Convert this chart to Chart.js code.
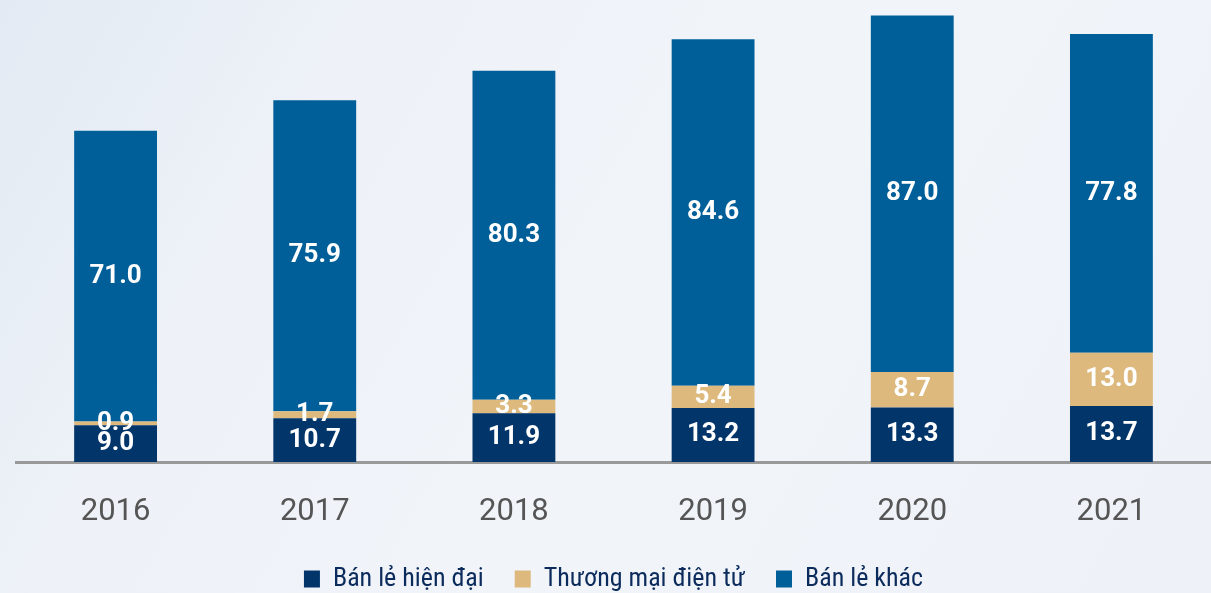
<!DOCTYPE html>
<html>
<head>
<meta charset="utf-8">
<script src="https://cdn.jsdelivr.net/npm/chart.js@4"></script>
<style>
  html, body { margin: 0; padding: 0; }
  body {
    width: 1211px; height: 593px; overflow: hidden;
    background: linear-gradient(120deg, #e3eaf3 0%, #eef2f8 25%, #f1f4f9 55%, #eef2f8 100%);
  }
  #wrap { position: relative; width: 1211px; height: 593px; }
</style>
</head>
<body>
<div id="wrap"><canvas id="chart"></canvas></div>
<script>
const years = ["2016", "2017", "2018", "2019", "2020", "2021"];
const modernRetail = [9.0, 10.7, 11.9, 13.2, 13.3, 13.7];   // Bán lẻ hiện đại
const eCommerce = [0.9, 1.7, 3.3, 5.4, 8.7, 13.0];          // Thương mại điện tử
const otherRetail = [71.0, 75.9, 80.3, 84.6, 87.0, 77.8];   // Bán lẻ khác

// Draw the value in the middle of each segment (no datalabels plugin offline)
const segmentLabels = {
  id: "segmentLabels",
  afterDatasetsDraw(chart) {
    const ctx = chart.ctx;
    ctx.save();
    ctx.fillStyle = "#ffffff";
    ctx.font = "bold 26px Roboto, 'DejaVu Sans', sans-serif";
    ctx.textAlign = "center";
    ctx.textBaseline = "middle";
    chart.data.datasets.forEach((ds, i) => {
      const meta = chart.getDatasetMeta(i);
      meta.data.forEach((bar, j) => {
        const { x, y, base } = bar.getProps(["x", "y", "base"], true);
        ctx.fillText(ds.data[j].toFixed(1), x, (y + base) / 2);
      });
    });
    ctx.restore();
  },
};

const ctx = document.getElementById("chart").getContext("2d");
new Chart(ctx, {
  type: "bar",
  data: {
    labels: years,
    datasets: [
      { label: "Bán lẻ hiện đại", data: modernRetail, backgroundColor: "#02356a" },
      { label: "Thương mại điện tử", data: eCommerce, backgroundColor: "#ddb97e" },
      { label: "Bán lẻ khác", data: otherRetail, backgroundColor: "#005f99" },
    ],
  },
  options: {
    responsive: true,
    maintainAspectRatio: false,
    animation: false,
    layout: { padding: { left: 16, right: 0, top: 0, bottom: 0 } },
    datasets: {
      bar: { categoryPercentage: 1, barPercentage: 0.416 },
    },
    scales: {
      x: {
        stacked: true,
        grid: { display: false, drawTicks: false },
        border: { display: true, color: "#999999", width: 3 },
        ticks: {
          color: "#555555",
          padding: 32,
          font: { family: "Roboto, 'DejaVu Sans', sans-serif", size: 31 },
        },
        afterFit(scale) {
          scale.height = 73; // keep the axis line where the picture has it
        },
      },
      y: {
        stacked: true,
        display: false,
        min: 0,
        max: 112.8,
      },
    },
    plugins: {
      tooltip: { enabled: false },
      legend: {
        position: "bottom",
        maxHeight: 58,
        labels: {
          boxWidth: 16,
          boxHeight: 17,
          padding: 31,
          color: "#0b2b5c",
          font: { family: "'Liberation Sans Narrow', 'Roboto Condensed', Roboto, sans-serif", size: 26 },
        },
      },
    },
  },
  plugins: [segmentLabels],
});
</script>
</body>
</html>
